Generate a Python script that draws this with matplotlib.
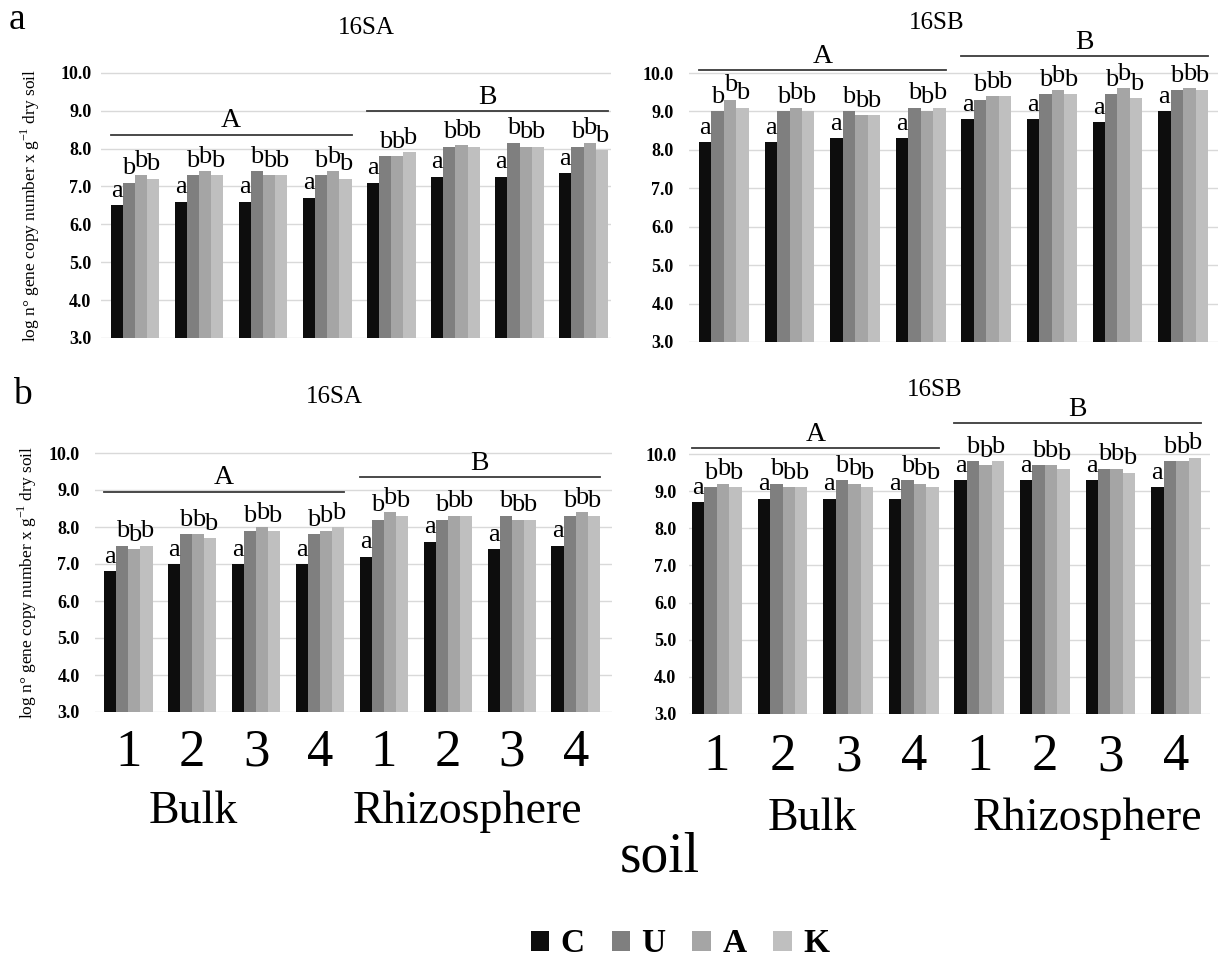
import matplotlib
matplotlib.use("Agg")
import matplotlib.pyplot as plt
from matplotlib.patches import Patch

plt.rcParams['font.family'] = ['Liberation Serif', 'DejaVu Serif']
plt.rcParams['mathtext.fontset'] = 'custom'
plt.rcParams['mathtext.rm'] = 'Liberation Serif'

W, H = 1221, 960

# ---------------- data ----------------
treatments = ['C', 'U', 'A', 'K']
colors = ['#0d0d0d', '#7f7f7f', '#a5a5a5', '#bfbfbf']
site_labels = ['1', '2', '3', '4', '1', '2', '3', '4']
soil_groups = ['Bulk', 'Rhizosphere']
treat_letters = ['a', 'b', 'b', 'b']
group_letters = ['A', 'B']

# panel a, 16SA  (Bulk 1-4, Rhizosphere 1-4)
a_16SA_C = [6.5, 6.6, 6.6, 6.7, 7.1, 7.25, 7.25, 7.35]
a_16SA_U = [7.1, 7.3, 7.4, 7.3, 7.8, 8.05, 8.15, 8.05]
a_16SA_A = [7.3, 7.4, 7.3, 7.4, 7.8, 8.1, 8.05, 8.15]
a_16SA_K = [7.2, 7.3, 7.3, 7.2, 7.9, 8.05, 8.05, 7.95]

# panel a, 16SB
a_16SB_C = [8.2, 8.2, 8.3, 8.3, 8.8, 8.8, 8.72, 9.0]
a_16SB_U = [9.0, 9.0, 9.0, 9.1, 9.3, 9.45, 9.45, 9.55]
a_16SB_A = [9.3, 9.1, 8.9, 9.0, 9.4, 9.55, 9.6, 9.6]
a_16SB_K = [9.1, 9.0, 8.9, 9.1, 9.4, 9.45, 9.35, 9.55]

# panel b, 16SA
b_16SA_C = [6.8, 7.0, 7.0, 7.0, 7.2, 7.6, 7.4, 7.5]
b_16SA_U = [7.5, 7.8, 7.9, 7.8, 8.2, 8.2, 8.3, 8.3]
b_16SA_A = [7.4, 7.8, 8.0, 7.9, 8.4, 8.3, 8.2, 8.4]
b_16SA_K = [7.5, 7.7, 7.9, 8.0, 8.3, 8.3, 8.2, 8.3]

# panel b, 16SB
b_16SB_C = [8.7, 8.8, 8.8, 8.8, 9.3, 9.3, 9.3, 9.1]
b_16SB_U = [9.1, 9.2, 9.3, 9.3, 9.8, 9.7, 9.6, 9.8]
b_16SB_A = [9.2, 9.1, 9.2, 9.2, 9.7, 9.7, 9.6, 9.8]
b_16SB_K = [9.1, 9.1, 9.1, 9.1, 9.8, 9.6, 9.5, 9.9]

# significance bracket heights (A: Bulk, B: Rhizosphere)
a_16SA_brackets = [8.36, 8.99]
a_16SB_brackets = [10.08, 10.44]
b_16SA_brackets = [8.95, 9.35]
b_16SB_brackets = [10.16, 10.83]

ylabel = 'log n\u00b0 gene copy number x g$^{\\mathregular{-1}}$ dry soil'

fig = plt.figure(figsize=(W / 100, H / 100), dpi=100)
fig.patch.set_facecolor('white')

BW = 0.19
HALF = 2 * BW


def panel(axl, axr, bs, be, y10, y3, ytop, series, brackets, show_x, ypad, xpad):
    ppu = (y3 - y10) / 7.0
    top = y10 - (ytop - 10) * ppu
    ax = fig.add_axes([axl / W, 1 - y3 / H, (axr - axl) / W, (y3 - top) / H])
    ppx = (be - bs) / (7 + 2 * HALF)
    ax.set_xlim(-HALF - (bs - axl) / ppx, 7 + HALF + (axr - be) / ppx)
    ax.set_ylim(3, ytop)
    x = list(range(len(site_labels)))
    for j, vals in enumerate(series):
        xs = [xi + (j - 1.5) * BW for xi in x]
        ax.bar(xs, vals, BW, color=colors[j], zorder=2, linewidth=0)
        for xp, v in zip(xs, vals):
            ax.annotate(treat_letters[j], (xp, v), xytext=(0, 2.5),
                        textcoords='offset points', ha='center', va='bottom',
                        fontsize=19, zorder=3)
    for k, yb in enumerate(brackets):
        x0, x1 = 4 * k - HALF, 4 * k + 3 + HALF
        ax.plot([x0, x1], [yb, yb], color='#3a3a3a', lw=1.3, clip_on=False)
        ax.annotate(group_letters[k], ((x0 + x1) / 2, yb), xytext=(0, 1),
                    textcoords='offset points', ha='center', va='bottom',
                    fontsize=20)
    ax.set_yticks(range(3, 11))
    ax.set_yticklabels([f'{v:.1f}' for v in range(3, 11)],
                       fontweight='bold', fontsize=13)
    ax.yaxis.grid(True, color='#d9d9d9', lw=1.0)
    ax.set_axisbelow(True)
    for s in ax.spines.values():
        s.set_visible(False)
    ax.set_xticks(x)
    if show_x:
        ax.set_xticklabels(site_labels, fontsize=38)
    else:
        ax.set_xticklabels([])
    ax.tick_params(axis='both', length=0)
    ax.tick_params(axis='y', pad=ypad)
    ax.tick_params(axis='x', pad=xpad)
    return ax


panel(101, 611, 110.5, 608, 72.7, 338, 10.3,
      [a_16SA_C, a_16SA_U, a_16SA_A, a_16SA_K], a_16SA_brackets, False, 7, 4)
panel(689, 1218, 699, 1208, 73, 342, 11.0,
      [a_16SB_C, a_16SB_U, a_16SB_A, a_16SB_K], a_16SB_brackets, False, 11, 4)
panel(95, 612, 104, 600, 453, 712, 10.3,
      [b_16SA_C, b_16SA_U, b_16SA_A, b_16SA_K], b_16SA_brackets, True, 11, 12)
panel(689, 1210, 692, 1201, 454, 714, 11.3,
      [b_16SB_C, b_16SB_U, b_16SB_A, b_16SB_K], b_16SB_brackets, True, 9, 14)


def ftext(xp, yp, s, **kw):
    fig.text(xp / W, 1 - yp / H, s, ha='center', va='center', **kw)


ftext(17, 20, 'a', fontsize=27)
ftext(22, 395, 'b', fontsize=27)
ftext(366, 28, '16SA', fontsize=18)
ftext(937, 23, '16SB', fontsize=18)
ftext(334, 397, '16SA', fontsize=18)
ftext(935, 390, '16SB', fontsize=18)
ftext(30, 205, ylabel, fontsize=12.5, rotation=90)
ftext(27, 582, ylabel, fontsize=12.5, rotation=90)

ftext(193, 812, soil_groups[0], fontsize=33)
ftext(467, 812, soil_groups[1], fontsize=33)
ftext(812, 819, soil_groups[0], fontsize=33)
ftext(1088, 819, soil_groups[1], fontsize=33)
ftext(660, 858, 'soil', fontsize=40)

handles = [Patch(facecolor=c, edgecolor='none', label=t)
           for c, t in zip(colors, treatments)]
fig.legend(handles=handles, loc='center', bbox_to_anchor=(680 / W, 1 - 944 / H),
           ncol=4, frameon=False, prop={'weight': 'bold', 'size': 24},
           handlelength=0.55, handleheight=0.55, handletextpad=0.35,
           columnspacing=0.8)

fig.savefig('out.png', dpi=100, facecolor='white')
